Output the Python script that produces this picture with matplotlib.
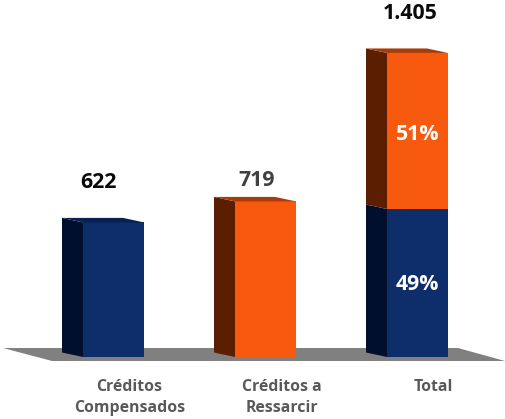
import matplotlib
matplotlib.use("Agg")
import matplotlib.pyplot as plt

categories = ["Créditos\nCompensados", "Créditos a\nRessarcir", "Total"]
compensados = [622, 0, 684]
ressarcir = [0, 719, 721]
value_labels = ["622", "719", "1.405"]
value_colors = ["#0a0a0a", "#404040", "#0a0a0a"]
pct_labels = ["49%", "51%"]

W, H = 506, 419
BLUE = ("#0E2D6B", "#000F2E", "#0A2050")
ORANGE = ("#F75A0E", "#5C1E00", "#A83C08")
FLOOR = "#808080"
FONT = "Open Sans"

fig = plt.figure(figsize=(W / 100, H / 100), dpi=100)
ax = fig.add_axes([0, 0, 1, 1])
PX_X = 152.0      # pixels per category
PX_Y = 0.2164     # pixels per value unit
X0, Y0 = 113.5, 357.0
ax.set_xlim(-X0 / PX_X, (W - X0) / PX_X)
ax.set_ylim(-(H - Y0) / PX_Y, Y0 / PX_Y)
ax.axis("off")

bar_w = 61 / PX_X
dx, dy = -21 / PX_X, 4.5 / PX_Y
inset = 21 / PX_X   # the top face's far right corner stops short of the front


def to_x(px):
    return (px - X0) / PX_X


def to_y(px):
    return (Y0 - px) / PX_Y


# floor
ax.fill([to_x(3), to_x(458), to_x(505), to_x(52)],
        [to_y(348), to_y(348), to_y(361), to_y(361)],
        color=FLOOR, lw=0, zorder=1)


def box(i, bottom, height, cols, top=True):
    left = i - bar_w / 2
    right = i + bar_w / 2
    t = bottom + height
    ax.fill([left, right, right, left], [bottom, bottom, t, t],
            color=cols[0], lw=0, zorder=3)
    ax.fill([left + dx, left, left, left + dx],
            [bottom + dy, bottom, t, t + dy],
            color=cols[1], lw=0, zorder=3)
    if top:
        ax.fill([left + dx, right - inset, right, left],
                [t + dy, t + dy, t, t],
                color=cols[2], lw=0, zorder=3)


for i in range(len(categories)):
    c, r = compensados[i], ressarcir[i]
    if c:
        box(i, 0, c, BLUE, top=(r == 0))
    if r:
        box(i, c, r, ORANGE)
    ax.annotate(categories[i], (i, 0), xytext=(16, -22),
                textcoords="offset pixels", ha="center", va="top",
                fontsize=11.4, fontweight="bold", color="#595959",
                family=FONT, linespacing=1.42)

value_offsets = [(-15, 40), (-9, 21), (-7, 39)]
for i, lab in enumerate(value_labels):
    total = compensados[i] + ressarcir[i]
    ax.annotate(lab, (i, total), xytext=value_offsets[i],
                textcoords="offset pixels", ha="center", va="center",
                fontsize=15.3, fontweight="bold", color=value_colors[i], family=FONT)

ax.annotate(pct_labels[0], (2, compensados[2] / 2), xytext=(0, -2),
            textcoords="offset pixels", ha="center", va="center",
            fontsize=15.3, fontweight="bold", color="white", family=FONT)
ax.annotate(pct_labels[1], (2, compensados[2] + ressarcir[2] / 2), xytext=(0, -4),
            textcoords="offset pixels", ha="center", va="center",
            fontsize=15.3, fontweight="bold", color="white", family=FONT)

fig.savefig("out.png", dpi=100)
